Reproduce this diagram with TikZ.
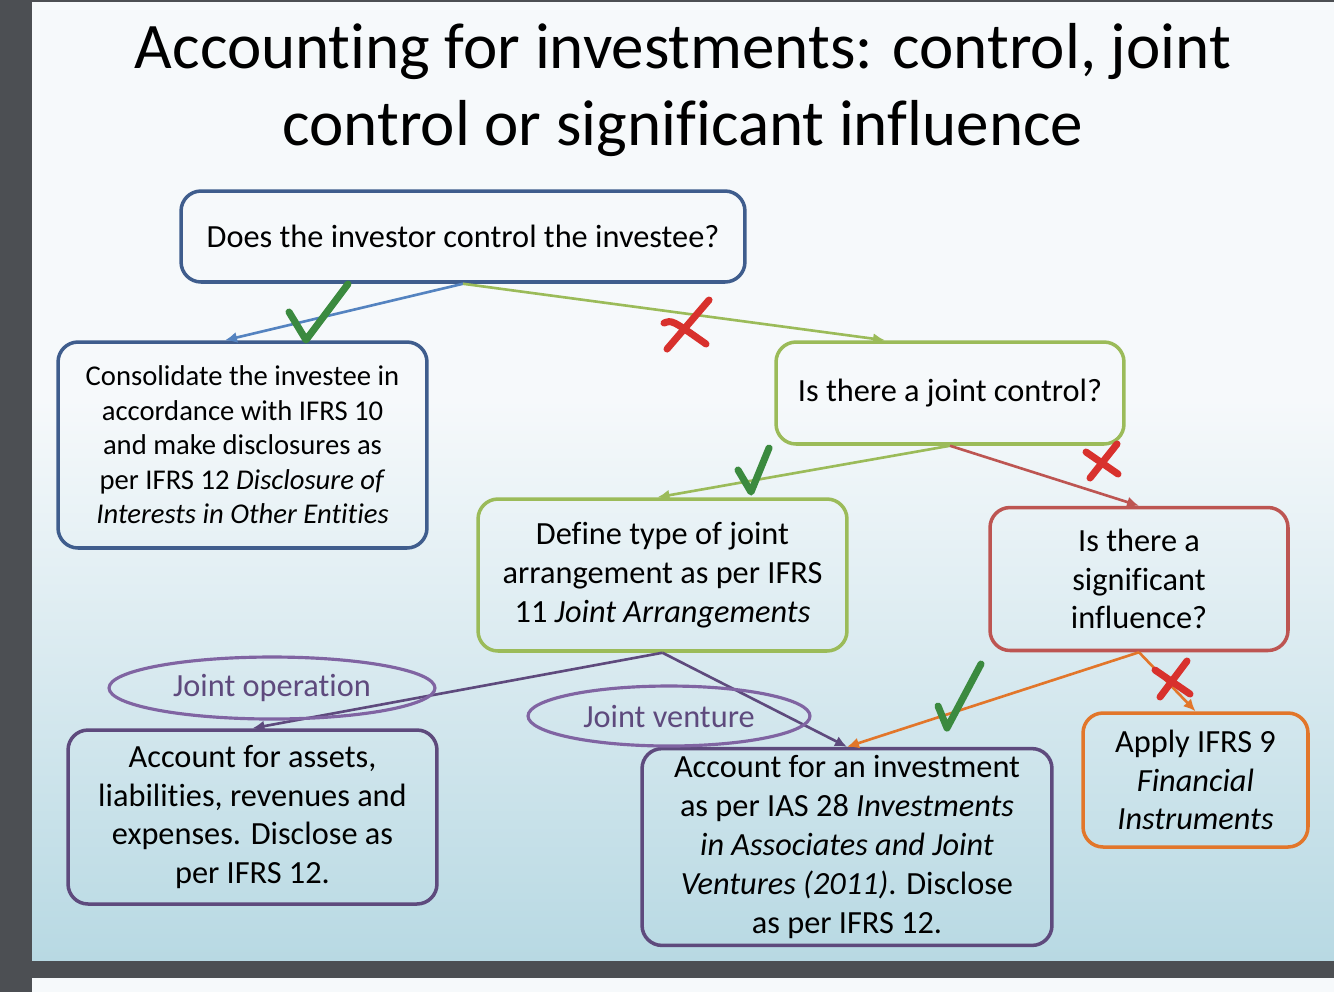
\documentclass[tikz,border=0pt]{standalone}
\usepackage{fontspec}
\setmainfont{Carlito}[Ligatures={NoCommon}]
\usepackage{xcolor}
\usepackage{tikz}
\usetikzlibrary{arrows.meta,positioning,shapes.geometric,calc}
\definecolor{qblue}{HTML}{3F5D8D}
\definecolor{ablue}{HTML}{5483C0}
\definecolor{qgreen}{HTML}{9BBB59}
\definecolor{qred}{HTML}{BD5552}
\definecolor{dpurple}{HTML}{5E4A7D}
\definecolor{lpurple}{HTML}{8064A2}
\definecolor{qorange}{HTML}{E2762A}
\definecolor{tickgreen}{HTML}{3B8A3F}
\definecolor{crossred}{HTML}{D8312D}
\definecolor{slidegrey}{HTML}{4C4F53}
\definecolor{bgtop}{HTML}{F6F9FB}
\definecolor{bgmid}{HTML}{E2EFF3}
\definecolor{bgbot}{HTML}{B8D9E3}
\tikzset{
  box/.style={draw, rounded corners=0.4cm, align=center, line width=2pt, inner sep=4pt,
    font=\fontsize{18.4}{22.1}\selectfont},
  smallbox/.style={box, font=\fontsize{16.3}{19.6}\selectfont},
  branch/.style={ellipse, draw=lpurple, line width=1.8pt, text=dpurple, inner sep=0pt,
    font=\fontsize{18.4}{22}\selectfont},
  line/.style={-{Latex[length=2.4mm,width=2.2mm]}, line width=1.5pt},
  tickmark/.style={draw=tickgreen, line width=4pt, line cap=round, line join=round},
  crossmark/.style={draw=crossred, line width=4pt, line cap=round}
}

\begin{document}
\begin{tikzpicture}[x=0.02cm, y=-0.02cm]
  \useasboundingbox (0,0) rectangle (1334,992);
  % slide and frame
  \fill[slidegrey] (0,0) rectangle (1334,992);
  \fill[bgtop] (32,978) rectangle (1334,992);
  \fill[bgtop] (32,2) rectangle (1334,400);
  \shade[top color=bgtop, middle color=bgmid, bottom color=bgbot] (32,399) rectangle (1334,960);

  \node[font=\fontsize{37}{43.5}\selectfont, align=center] (title) at (683,90)
    {Accounting for investments: control, joint\\control or significant influence};

  % questions
  \node[box, draw=qblue, minimum width=11.28cm, minimum height=1.82cm] (ctrl) at (463,236.5)
    {Does the investor control the investee?};
  \node[smallbox, draw=qblue, minimum width=7.38cm, minimum height=4.12cm] (cons) at (242.5,445)
    {Consolidate the investee in\\accordance with IFRS 10\\and make disclosures as\\per IFRS 12 \textit{Disclosure of}\\\textit{Interests in Other Entities}};
  \node[box, draw=qgreen, minimum width=6.96cm, minimum height=2.04cm] (joint) at (950,393)
    {\raisebox{-3pt}{Is there a joint control?}};
  \node[box, draw=qgreen, minimum width=7.38cm, minimum height=3.04cm] (type) at (662.5,575)
    {Define type of joint\\arrangement as per IFRS\\11 \textit{Joint Arrangements}};
  \node[box, draw=qred, minimum width=5.96cm, minimum height=2.86cm] (infl) at (1139,579)
    {Is there a\\significant\\influence?};

  % outcomes
  \node[box, draw=dpurple, minimum width=7.38cm, minimum height=3.48cm] (oper) at (252.5,817)
    {Account for assets,\\liabilities, revenues and\\expenses. Disclose as\\per IFRS 12.};
  \node[box, draw=dpurple, minimum width=8.2cm, minimum height=3.86cm] (invest) at (847,847)
    {Account for an investment\\as per IAS 28 \textit{Investments}\\\textit{in Associates and Joint}\\\textit{Ventures (2011)}. Disclose\\as per IFRS 12.};
  \node[box, draw=qorange, minimum width=4.5cm, minimum height=2.68cm] (ifrs) at (1195.5,780)
    {Apply IFRS 9\\\textit{Financial}\\\textit{Instruments}};

  % arrows
  \draw[line, ablue] (ctrl.south) -- ([xshift=-0.35cm]cons.north);
  \draw[line, qgreen] (ctrl.south) -- ([xshift=-1.3cm]joint.north);
  \draw[line, qgreen] (joint.south) -- ([xshift=-0.1cm]type.north);
  \draw[line, qred] (joint.south) -- (infl.north);
  \draw[line, dpurple] (type.south) -- (oper.north);
  \draw[line, dpurple] (type.south) -- (invest.north);
  \draw[line, qorange] (infl.south) -- (invest.north);
  \draw[line, qorange] (infl.south) -- (ifrs.north);

  \node[branch, minimum width=6.52cm, minimum height=1.24cm] (jop) at (272,688) {\raisebox{-2pt}{Joint operation}};
  \node[branch, minimum width=5.64cm, minimum height=1.2cm] (jv) at (669,716) {\raisebox{-2pt}{Joint venture}};

  % ticks and crosses
  \draw[tickmark] (289,312) -- (306,340) -- (348,284);
  \draw[tickmark] (738,470) -- (751,492) -- (769,448);
  \draw[tickmark] (938,706) -- (947,728) -- (981,664);
  \draw[crossmark] (667,349) -- (709,300);
  \draw[crossmark] (664,323) .. controls (672,320) .. (706,344);
  \draw[crossmark] (1090,478) -- (1117,444);
  \draw[crossmark] (1086,452) -- (1118,474);
  \draw[crossmark] (1160,697) -- (1187,661);
  \draw[crossmark] (1155,670) -- (1190,694);
\end{tikzpicture}
\end{document}
